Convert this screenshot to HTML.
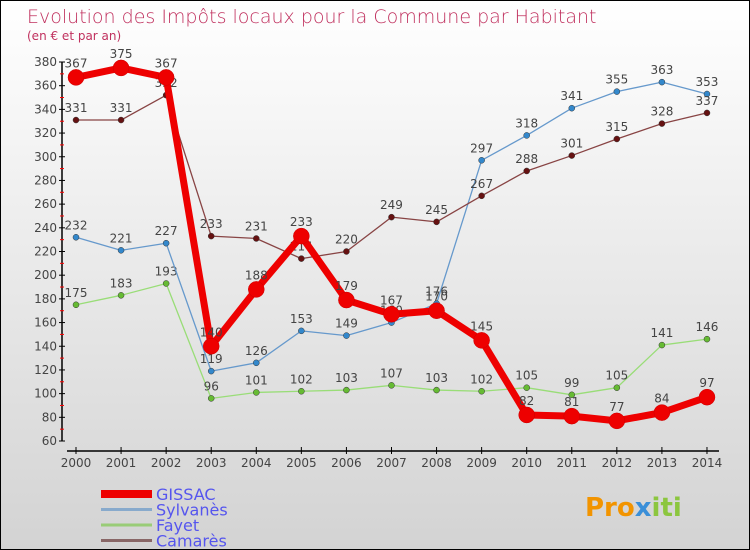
<!DOCTYPE html>
<html><head><meta charset="utf-8"><style>
body{margin:0}
#c{width:750px;height:550px;position:relative;overflow:hidden;background:linear-gradient(#ffffff,#d3d3d3);border:1px solid #000;box-sizing:border-box;font-family:"DejaVu Sans","Liberation Sans",sans-serif}
</style></head><body>
<div id="c">
<svg id="s" width="750" height="550">
<text x="26" y="22" font-size="19" fill="#c0305e" font-family="DejaVu Sans, sans-serif" font-weight="200">Evolution des Impôts locaux pour la Commune par Habitant</text>
<text x="26" y="39" font-size="12" fill="#c0305e">(en € et par an)</text>
<g id="axes"></g><g id="series"></g><g id="legend"></g>
<text x="584" y="515" font-size="26" font-weight="bold" fill="#f29400">Pro<tspan fill="#3a8fd8">x</tspan><tspan fill="#8cc63f">iti</tspan></text>
</svg></div>
<script>
const years=[2000,2001,2002,2003,2004,2005,2006,2007,2008,2009,2010,2011,2012,2013,2014];
const gissac=[367,375,367,140,188,233,179,167,170,145,82,81,77,84,97];
const sylvanes=[232,221,227,119,126,153,149,160,176,297,318,341,355,363,353];
const fayet=[175,183,193,96,101,102,103,107,103,102,105,99,105,141,146];
const camares=[331,331,352,233,231,214,220,249,245,267,288,301,315,328,337];
const yTicks=[60,80,100,120,140,160,180,200,220,240,260,280,300,320,340,360,380];
const NS="http://www.w3.org/2000/svg";
const X=i=>75+i*45.07, Y=v=>440-(v-60)*379/320;
function mk(t,a,p){const e=document.createElementNS(NS,t);for(const k in a)e.setAttribute(k,a[k]);p.appendChild(e);return e;}
const ax=document.getElementById('axes');
let yl=mk('line',{x1:61,y1:Y(380),x2:61,y2:Y(60),stroke:'#000','stroke-width':1.5},ax);


yTicks.forEach(v=>{mk('line',{x1:58,x2:64,y1:Y(v),y2:Y(v),stroke:'#000'},ax);
 if(v<380)mk('line',{x1:59,x2:63,y1:Y(v+10),y2:Y(v+10),stroke:'red'},ax);
 const t=mk('text',{x:56,y:Y(v)+4,'text-anchor':'end','font-size':12,fill:'#444'},ax);t.textContent=v;
 
 });
let xl=mk('line',{x1:66,y1:450,x2:718,y2:450,stroke:'#000','stroke-width':1.5},ax);


years.forEach((y,i)=>{mk('line',{x1:X(i),x2:X(i),y1:446,y2:453,stroke:'#000'},ax);
 const t=mk('text',{x:X(i),y:466,'text-anchor':'middle','font-size':12,fill:'#444'},ax);t.textContent=y;
 
 });
const S=document.getElementById('series');
const defs=[[fayet,'#99dd77','#66bb33',1.3,3,'fayet'],[sylvanes,'#6699cc','#3388cc',1.3,3,'sylvanes'],[camares,'#884444','#661111',1.3,3,'camares'],[gissac,'#ee0000','#ee0000',7,8,'gissac']];
defs.forEach(([d,lc,pc,w,r,n])=>{
 const g=mk('g',{},S);
 
 
 mk('polyline',{points:d.map((v,i)=>X(i)+','+Y(v)).join(' '),fill:'none',stroke:lc,'stroke-width':w,'stroke-linejoin':'round'},g);
 d.forEach((v,i)=>{const c=mk('circle',{cx:X(i),cy:Y(v),r:r,fill:pc,stroke:n=='gissac'?'#cc0000':'#333','stroke-width':0.5},g);
  
  
  const t=mk('text',{x:X(i),y:Y(v)-(n=='gissac'?10:8),'text-anchor':'middle','font-size':12,fill:'#444'},g);t.textContent=v;
  
  });
});
const L=document.getElementById('legend');
[['GISSAC','#ee0000',8],['Sylvanès','#88aacc',3],['Fayet','#99cc77',3],['Camarès','#886666',3]].forEach(([n,c,w],i)=>{
 const y=493+i*15.5;
 const g=mk('g',{},L);
 
 
 mk('line',{x1:100,x2:151,y1:y,y2:y,stroke:c,'stroke-width':w},g);
 const t=mk('text',{x:155,y:y+6,'font-size':16,fill:'#5555ee'},g);t.textContent=n;
});
</script>
</body></html>
